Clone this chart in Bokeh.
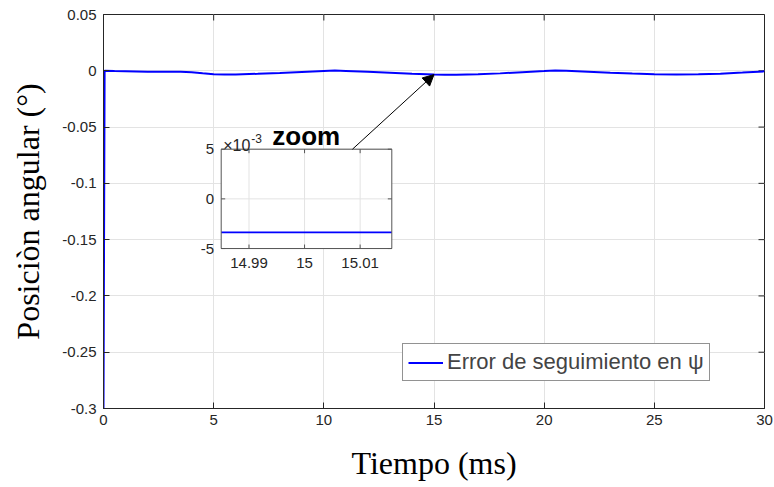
import math
from bokeh.plotting import figure
from bokeh.models import (Range1d, FixedTicker, Legend, LegendItem,
                          Arrow, NormalHead, Label)
from bokeh.embed import file_html
from bokeh.resources import INLINE
from bokeh.core.properties import value

# ---------------- data ----------------
t_ms = [0, 0.05, 0.5, 1, 1.5, 2, 2.5, 3, 3.5, 4, 4.5, 5, 5.5, 6, 7, 8, 9, 10,
        10.5, 11, 12, 13, 14, 15, 15.5, 16, 17, 18, 19, 20, 20.5, 21, 22, 23,
        24, 25, 26, 27, 28, 29, 30]
err_deg = [-0.3, 0.0, -0.0002, -0.0004, -0.0006, -0.0008, -0.0009, -0.0008,
           -0.0009, -0.0013, -0.0022, -0.0030, -0.0033, -0.0032, -0.0027,
           -0.0019, -0.0010, -0.0002, 0.0002, -0.0001, -0.0009, -0.0018,
           -0.0027, -0.0033, -0.0035, -0.0035, -0.0031, -0.0023, -0.0012,
           -0.0003, 0.0002, 0.0, -0.0008, -0.0017, -0.0025, -0.0030, -0.0032,
           -0.0031, -0.0026, -0.0016, -0.0005]

x_ticks = [0, 5, 10, 15, 20, 25, 30]
x_tick_labels = ["0", "5", "10", "15", "20", "25", "30"]
y_ticks = [0.05, 0, -0.05, -0.1, -0.15, -0.2, -0.25, -0.3]
y_tick_labels = ["0.05", "0", "-0.05", "-0.1", "-0.15", "-0.2", "-0.25", "-0.3"]

zoom_t = [14.985, 15.0157]
zoom_err = [-0.00337, -0.00337]
zoom_x_ticks = [14.99, 15.0, 15.01]
zoom_x_labels = ["14.99", "15", "15.01"]
zoom_y_ticks = [-0.005, 0.0, 0.005]
zoom_y_labels = ["-5", "0", "5"]
zoom_x_range = (14.985, 15.0157)
zoom_y_range = (-0.005, 0.005)
zoom_point = (15.0, -0.00337)

series_label = "Error de seguimiento en ψ"
x_title = "Tiempo (ms)"
y_title = "Posiciòn angular (°)"

# inset placement, in the main plot's data units
inset_x_target = (5.342, 13.085)
inset_y_target = (-0.1579, -0.06966)
arrow_start_x = 11.3
x_range = (0, 30)
y_range = (-0.3, 0.05)

AX = "#262626"
GRID = "#e3e3e3"
BLUE = "#0000ff"

p = figure(width=774, height=487, x_range=Range1d(*x_range), y_range=Range1d(*y_range),
           min_border_left=103, min_border_right=10, min_border_top=14,
           min_border_bottom=79, output_backend="svg", toolbar_location=None,
           background_fill_color="white", border_fill_color="white")
p.outline_line_color = AX

# axes
for ax in (p.xaxis[0], p.yaxis[0]):
    ax.major_tick_in = 6
    ax.major_tick_out = 0
    ax.minor_tick_line_color = None
    ax.axis_line_color = AX
    ax.major_tick_line_color = AX
    ax.major_label_text_color = AX
    ax.major_label_text_font = "Liberation Sans"
    ax.major_label_text_font_size = "15px"
    ax.axis_label_text_font = "Liberation Serif"
    ax.axis_label_text_font_size = "32px"
    ax.axis_label_text_font_style = "normal"
    ax.axis_label_text_color = "black"

p.xaxis.ticker = FixedTicker(ticks=x_ticks)
p.xaxis.major_label_overrides = {v: s for v, s in zip(x_ticks, x_tick_labels)}
p.xaxis.axis_label = x_title
p.xaxis.major_label_standoff = 6
p.xaxis.axis_label_standoff = 17

p.yaxis.ticker = FixedTicker(ticks=y_ticks)
p.yaxis.major_label_overrides = {v: s for v, s in zip(y_ticks, y_tick_labels)}
p.yaxis.axis_label = y_title
p.yaxis.major_label_standoff = 7
p.yaxis.axis_label_standoff = 13

p.xgrid.grid_line_color = GRID
p.ygrid.grid_line_color = GRID

# inward ticks on the top and right edges of the box
p.ray(x=x_ticks, y=[y_range[1]] * len(x_ticks), length=6, length_units="screen",
      angle=-math.pi / 2, line_color=AX, line_width=1)
p.ray(x=[x_range[1]] * len(y_ticks), y=y_ticks, length=6, length_units="screen",
      angle=math.pi, line_color=AX, line_width=1)

# main curve
r = p.line(t_ms, err_deg, line_color=BLUE, line_width=2)

# ---------------- inset ----------------
ins = p.subplot(x_source=Range1d(*zoom_x_range), y_source=Range1d(*zoom_y_range),
                x_target=Range1d(*inset_x_target), y_target=Range1d(*inset_y_target))
x0, x1 = zoom_x_range
y0, y1 = zoom_y_range
ins.quad(left=x0, right=x1, bottom=y0, top=y1, fill_color="white", line_color=None)
ins.segment(x0=zoom_x_ticks, y0=[y0] * 3, x1=zoom_x_ticks, y1=[y1] * 3,
            line_color=GRID, line_width=1)
ins.segment(x0=[x0] * 3, y0=zoom_y_ticks, x1=[x1] * 3, y1=zoom_y_ticks,
            line_color=GRID, line_width=1)
ins.line(zoom_t, zoom_err, line_color=BLUE, line_width=1.6)
ins.quad(left=x0, right=x1, bottom=y0, top=y1, fill_color=None,
         line_color="#555555", line_width=1)
# ticks
ins.ray(x=zoom_x_ticks, y=[y0] * 3, length=4, length_units="screen",
        angle=math.pi / 2, line_color="#555555")
ins.ray(x=zoom_x_ticks, y=[y1] * 3, length=4, length_units="screen",
        angle=-math.pi / 2, line_color="#555555")
ins.ray(x=[x0] * 3, y=zoom_y_ticks, length=4, length_units="screen",
        angle=0, line_color="#555555")
ins.ray(x=[x1] * 3, y=zoom_y_ticks, length=4, length_units="screen",
        angle=math.pi, line_color="#555555")
# tick labels
ins.text(x=zoom_x_ticks, y=[y0] * 3, text=zoom_x_labels, y_offset=9,
         text_align="center", text_baseline="top", text_font=value("Liberation Sans"),
         text_font_size="15px", text_color=AX)
ins.text(x=[x0] * 3, y=zoom_y_ticks, text=zoom_y_labels, x_offset=-7,
         text_align="right", text_baseline="middle", text_font=value("Liberation Sans"),
         text_font_size="15px", text_color=AX)
ins.text(x=[x0], y=[y1], text=["×10"], x_offset=2, y_offset=-4,
         text_align="left", text_baseline="alphabetic", text_font=value("Liberation Sans"),
         text_font_size="16px", text_color=AX)
ins.text(x=[x0], y=[y1], text=["-3"], x_offset=30, y_offset=-11,
         text_align="left", text_baseline="alphabetic", text_font=value("Liberation Sans"),
         text_font_size="12px", text_color=AX)

# annotation: arrow + "zoom"
p.add_layout(Arrow(end=NormalHead(size=11, fill_color="black", line_color="black"),
                   x_start=arrow_start_x, y_start=inset_y_target[1],
                   x_end=zoom_point[0], y_end=zoom_point[1],
                   line_color="black", line_width=1))
p.add_layout(Label(x=7.66, y=inset_y_target[1], y_offset=13, text="zoom",
                   text_font="Liberation Sans", text_font_style="bold",
                   text_font_size="26px", text_color="black",
                   text_baseline="alphabetic", text_align="left"))

# legend
leg = Legend(items=[LegendItem(label=series_label, renderers=[r])],
             location=(299, 27), label_text_font="Liberation Sans",
             label_text_font_size="22px", glyph_width=35, glyph_height=23,
             label_standoff=4, padding=5, margin=0, spacing=0,
             border_line_color=AX, border_line_width=1,
             background_fill_alpha=1.0)
p.add_layout(leg, "center")

open("out.html", "w").write(file_html(p, INLINE))
